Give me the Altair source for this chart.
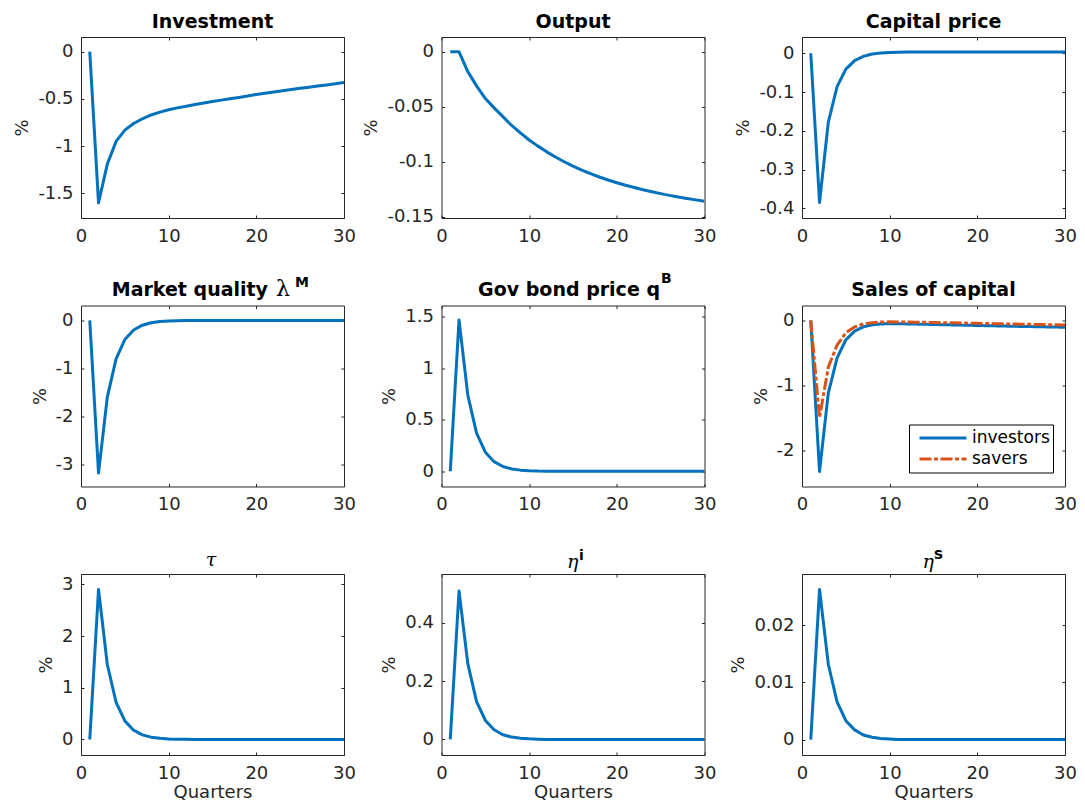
import altair as alt
import pandas as pd

quarters = list(range(1, 31))
x_ticks = [0, 10, 20, 30]

investment = [0.0, -1.60, -1.19, -0.95, -0.83, -0.76, -0.71, -0.67, -0.64, -0.615,
              -0.595, -0.577, -0.56, -0.544, -0.528, -0.513, -0.498, -0.484, -0.47, -0.453,
              -0.439, -0.426, -0.413, -0.40, -0.388, -0.376, -0.364, -0.352, -0.34, -0.325]
output = [0.0, 0.0, -0.018, -0.031, -0.0425, -0.051, -0.059, -0.067, -0.0738, -0.0802,
          -0.0858, -0.091, -0.0957, -0.100, -0.104, -0.1076, -0.1109, -0.1139, -0.1166, -0.1191,
          -0.1214, -0.1235, -0.1255, -0.1273, -0.129, -0.1306, -0.132, -0.1334, -0.1347, -0.1359]
capital_price = [0.0, -0.385, -0.178, -0.086, -0.041, -0.019, -0.008, -0.002, 0.001, 0.002,
                 0.0025, 0.003, 0.003, 0.003, 0.003, 0.003, 0.003, 0.003, 0.003, 0.003,
                 0.003, 0.003, 0.003, 0.003, 0.003, 0.003, 0.003, 0.003, 0.003, 0.003]
market_quality = [0.0, -3.18, -1.60, -0.80, -0.40, -0.20, -0.10, -0.05, -0.025, -0.012,
                  -0.006, -0.003, -0.0015, -0.0008, -0.0004, 0.0, 0.0, 0.0, 0.0, 0.0,
                  0.0, 0.0, 0.0, 0.0, 0.0, 0.0, 0.0, 0.0, 0.0, 0.0]
gov_bond = [0.0, 1.47, 0.74, 0.37, 0.185, 0.093, 0.046, 0.023, 0.011, 0.005,
            0.002, 0.001, 0.0005, 0.0, 0.0, 0.0, 0.0, 0.0, 0.0, 0.0,
            0.0, 0.0, 0.0, 0.0, 0.0, 0.0, 0.0, 0.0, 0.0, 0.0]
sales_investors = [0.0, -2.33, -1.12, -0.58, -0.30, -0.165, -0.10, -0.068, -0.055, -0.05,
                   -0.052, -0.054, -0.057, -0.06, -0.063, -0.066, -0.069, -0.072, -0.075, -0.078,
                   -0.081, -0.084, -0.087, -0.09, -0.093, -0.095, -0.098, -0.10, -0.103, -0.105]
sales_savers = [0.0, -1.50, -0.72, -0.38, -0.19, -0.10, -0.055, -0.035, -0.025, -0.022,
                -0.023, -0.025, -0.027, -0.03, -0.032, -0.035, -0.037, -0.04, -0.042, -0.045,
                -0.048, -0.05, -0.053, -0.055, -0.058, -0.06, -0.063, -0.065, -0.068, -0.072]
tau = [0.0, 2.90, 1.45, 0.72, 0.36, 0.18, 0.09, 0.045, 0.022, 0.011,
       0.005, 0.003, 0.001, 0.0, 0.0, 0.0, 0.0, 0.0, 0.0, 0.0,
       0.0, 0.0, 0.0, 0.0, 0.0, 0.0, 0.0, 0.0, 0.0, 0.0]
eta_i = [0.0, 0.51, 0.26, 0.13, 0.065, 0.033, 0.016, 0.008, 0.004, 0.002,
         0.001, 0.0, 0.0, 0.0, 0.0, 0.0, 0.0, 0.0, 0.0, 0.0,
         0.0, 0.0, 0.0, 0.0, 0.0, 0.0, 0.0, 0.0, 0.0, 0.0]
eta_s = [0.0, 0.0263, 0.0132, 0.0066, 0.0033, 0.0017, 0.0008, 0.0004, 0.0002, 0.0001,
         0.0, 0.0, 0.0, 0.0, 0.0, 0.0, 0.0, 0.0, 0.0, 0.0,
         0.0, 0.0, 0.0, 0.0, 0.0, 0.0, 0.0, 0.0, 0.0, 0.0]

series_names = ["investors", "savers"]

y_ticks = {
    "inv": [-1.5, -1, -0.5, 0],
    "out": [-0.15, -0.1, -0.05, 0],
    "cap": [-0.4, -0.3, -0.2, -0.1, 0],
    "mq": [-3, -2, -1, 0],
    "gb": [0, 0.5, 1, 1.5],
    "sal": [-2, -1, 0],
    "tau": [0, 1, 2, 3],
    "ei": [0, 0.2, 0.4],
    "es": [0, 0.01, 0.02],
}
y_domains = {
    "inv": [-1.76, 0.155],
    "out": [-0.1512, 0.0135],
    "cap": [-0.425, 0.042],
    "mq": [-3.46, 0.31],
    "gb": [-0.148, 1.61],
    "sal": [-2.562, 0.23],
    "tau": [-0.3, 3.2],
    "ei": [-0.0535, 0.568],
    "es": [-0.0027, 0.029],
}

BLUE = "#0072BD"
ORANGE = "#D95319"
AXC = "#262626"
FONT = "DejaVu Sans"
W, H = 263, 181


def frame_df(values, name="s"):
    return pd.DataFrame({"q": quarters, "v": values, "s": name})


def txt(text, x, y, size=19, weight="bold", font=FONT, style="normal", align="center"):
    return alt.Chart(pd.DataFrame({"t": [text]})).mark_text(
        align=align, baseline="alphabetic", font=font, fontSize=size,
        fontWeight=weight, fontStyle=style, color="black"
    ).encode(text="t:N", x=alt.value(x), y=alt.value(y))


def panel(df, key, titles, bottom=False, legend=False):
    yt = y_ticks[key]
    xs = alt.Scale(domain=[0, 30], nice=False, zero=False)
    ys = alt.Scale(domain=y_domains[key], nice=False, zero=False)
    xa = dict(orient="bottom", values=x_ticks, domain=False, ticks=True, tickSize=3,
              tickWidth=1, tickColor=AXC, offset=-3, labelFont=FONT, labelFontSize=18,
              labelColor=AXC, labelPadding=9, labelFlush=False,
              labelExpr="toString(datum.value)", grid=False)
    if bottom:
        xa.update(title="Quarters", titleFont=FONT, titleFontSize=18,
                  titleFontWeight="normal", titleColor=AXC, titlePadding=1)
    ya = alt.Axis(orient="left", values=yt, domain=False, ticks=True, tickSize=3,
                  tickWidth=1, tickColor=AXC, offset=-3, labelFont=FONT, labelFontSize=18,
                  labelColor=AXC, labelPadding=8, labelFlush=False,
                  labelExpr="toString(datum.value)", grid=False, title="%",
                  titleFont=FONT, titleFontSize=18, titleFontWeight="normal",
                  titleColor=AXC, titlePadding=6)
    xtop = alt.Axis(orient="top", values=x_ticks, domain=False, labels=False, ticks=True,
                    tickSize=3, tickWidth=1, tickColor=AXC, offset=-3, grid=False)
    yright = alt.Axis(orient="right", values=yt, domain=False, labels=False, ticks=True,
                      tickSize=3, tickWidth=1, tickColor=AXC, offset=-3, grid=False)

    base = alt.Chart(df)
    xenc = alt.X("q:Q", scale=xs, axis=alt.Axis(**xa), title="Quarters" if bottom else None)
    yenc = alt.Y("v:Q", scale=ys, axis=ya)
    if legend:
        leg = alt.Legend(title=None, orient="none", legendX=107, legendY=119,
                         symbolType="stroke", symbolSize=2209, symbolStrokeWidth=3,
                         clipHeight=21, labelFont=FONT, labelFontSize=17,
                         labelColor="black", strokeColor="black", fillColor="white",
                         padding=3, symbolOffset=6, labelOffset=4, rowPadding=0)
        main = base.mark_line(strokeWidth=3, clip=True, strokeJoin="round").encode(
            x=xenc, y=yenc,
            color=alt.Color("s:N", scale=alt.Scale(domain=series_names, range=[BLUE, ORANGE]), legend=leg),
            strokeDash=alt.StrokeDash("s:N", scale=alt.Scale(domain=series_names,
                                      range=[[1, 0], [12, 2.5, 4, 2.5]]), legend=leg),
        )
    else:
        main = base.mark_line(strokeWidth=3, clip=True, strokeJoin="round", color=BLUE).encode(
            x=xenc, y=yenc)
    dummy = base.mark_line(opacity=0).encode(
        x=alt.X("q:Q", scale=xs, axis=xtop, title=None),
        y=alt.Y("v:Q", scale=ys, axis=yright, title=None),
    )
    layers = [main, dummy] + titles
    return alt.layer(*layers).resolve_axis(x="independent", y="independent").properties(
        width=W, height=H)


sales_df = pd.concat([frame_df(sales_investors, "investors"), frame_df(sales_savers, "savers")],
                     ignore_index=True)

panels = [
    panel(frame_df(investment), "inv", [txt("Investment", W / 2, -9.5)]),
    panel(frame_df(output), "out", [txt("Output", W / 2, -9.5)]),
    panel(frame_df(capital_price), "cap", [txt("Capital price", W / 2, -9.5)]),
    panel(frame_df(market_quality), "mq", [
        txt("Market quality", 187, -9.5, align="right"),
        txt("λ", 195, -9.5, size=22, weight="normal", font="DejaVu Serif", align="left"),
        txt("M", 214, -18.3, size=14, align="left"),
    ]),
    panel(frame_df(gov_bond), "gb", [
        txt("Gov bond price q", 218.5, -9.4, align="right"),
        txt("B", 219.5, -22.7, size=14, align="left"),
    ]),
    panel(sales_df, "sal", [txt("Sales of capital", W / 2, -9.5)], legend=True),
    panel(frame_df(tau), "tau", [
        txt("τ", W / 2 - 1.5, -8.5, weight="normal", font="DejaVu Serif", style="italic"),
    ], bottom=True),
    panel(frame_df(eta_i), "ei", [
        txt("η", 137, -6, weight="normal", font="DejaVu Serif", style="italic", align="right"),
        txt("i", 137.5, -13.7, size=14, align="left"),
    ], bottom=True),
    panel(frame_df(eta_s), "es", [
        txt("η", 132, -6, weight="normal", font="DejaVu Serif", style="italic", align="right"),
        txt("s", 132, -15, size=15, align="left"),
    ], bottom=True),
]

chart = alt.ConcatChart(
    concat=panels, columns=3, spacing={"row": 87.5, "column": 97.5}, bounds="flush"
).resolve_scale(
    color="independent", strokeDash="independent"
).properties(
    padding={"left": 5, "top": 4, "right": 0, "bottom": 0},
    background="white",
).configure_view(stroke=AXC, strokeWidth=1)

chart.save("out.html", embed_options={"renderer": "svg", "actions": False})
